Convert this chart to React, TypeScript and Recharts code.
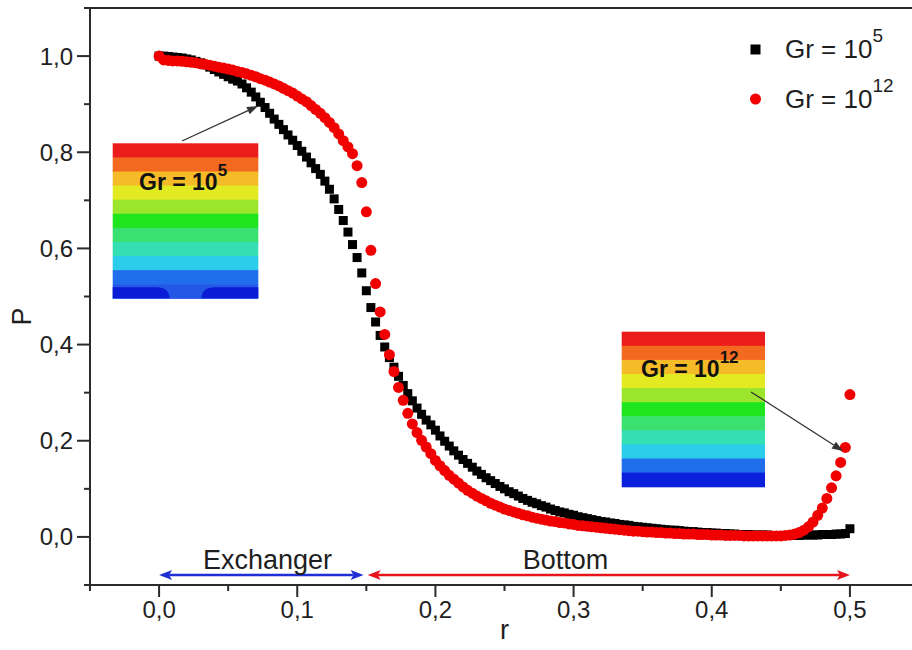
import React from "react";
import { ScatterChart, Scatter, XAxis, YAxis, ReferenceLine } from "recharts";

// radial position r (sampled every 1/300)
const R = [
  0, 0.0033, 0.0067, 0.01, 0.0133, 0.0167, 0.02, 0.0233, 0.0267, 0.03,
  0.0333, 0.0367, 0.04, 0.0433, 0.0467, 0.05, 0.0533, 0.0567, 0.06, 0.0633,
  0.0667, 0.07, 0.0733, 0.0767, 0.08, 0.0833, 0.0867, 0.09, 0.0933, 0.0967,
  0.1, 0.1033, 0.1067, 0.11, 0.1133, 0.1167, 0.12, 0.1233, 0.1267, 0.13,
  0.1333, 0.1367, 0.14, 0.1433, 0.1467, 0.15, 0.1533, 0.1567, 0.16, 0.1633,
  0.1667, 0.17, 0.1733, 0.1767, 0.18, 0.1833, 0.1867, 0.19, 0.1933, 0.1967,
  0.2, 0.2033, 0.2067, 0.21, 0.2133, 0.2167, 0.22, 0.2233, 0.2267, 0.23,
  0.2333, 0.2367, 0.24, 0.2433, 0.2467, 0.25, 0.2533, 0.2567, 0.26, 0.2633,
  0.2667, 0.27, 0.2733, 0.2767, 0.28, 0.2833, 0.2867, 0.29, 0.2933, 0.2967,
  0.3, 0.3033, 0.3067, 0.31, 0.3133, 0.3167, 0.32, 0.3233, 0.3267, 0.33,
  0.3333, 0.3367, 0.34, 0.3433, 0.3467, 0.35, 0.3533, 0.3567, 0.36, 0.3633,
  0.3667, 0.37, 0.3733, 0.3767, 0.38, 0.3833, 0.3867, 0.39, 0.3933, 0.3967,
  0.4, 0.4033, 0.4067, 0.41, 0.4133, 0.4167, 0.42, 0.4233, 0.4267, 0.43,
  0.4333, 0.4367, 0.44, 0.4433, 0.4467, 0.45, 0.4533, 0.4567, 0.46, 0.4633,
  0.4667, 0.47, 0.4733, 0.4767, 0.48, 0.4833, 0.4867, 0.49, 0.4933, 0.4967,
  0.5,
];

// P for Gr = 10^5 (black squares)
const P_GR5 = [
  1.0, 1.0, 0.999, 0.998, 0.997, 0.996, 0.994, 0.992, 0.989, 0.986,
  0.982, 0.977, 0.972, 0.967, 0.962, 0.957, 0.952, 0.948, 0.942, 0.934,
  0.925, 0.915, 0.904, 0.893, 0.881, 0.869, 0.858, 0.847, 0.836, 0.825,
  0.814, 0.802, 0.79, 0.778, 0.766, 0.754, 0.74, 0.723, 0.703, 0.681,
  0.658, 0.634, 0.608, 0.581, 0.549, 0.512, 0.477, 0.447, 0.419, 0.395,
  0.373, 0.353, 0.334, 0.315, 0.298, 0.283, 0.268, 0.255, 0.243, 0.233,
  0.222, 0.21, 0.199, 0.189, 0.179, 0.17, 0.161, 0.153, 0.145, 0.137,
  0.13, 0.123, 0.117, 0.111, 0.105, 0.1, 0.094, 0.09, 0.085, 0.08,
  0.076, 0.072, 0.069, 0.065, 0.062, 0.058, 0.055, 0.052, 0.05, 0.047,
  0.045, 0.042, 0.04, 0.038, 0.036, 0.034, 0.032, 0.031, 0.029, 0.028,
  0.026, 0.025, 0.024, 0.022, 0.021, 0.02, 0.019, 0.018, 0.017, 0.016,
  0.015, 0.014, 0.014, 0.013, 0.012, 0.011, 0.011, 0.01, 0.009, 0.009,
  0.008, 0.008, 0.007, 0.007, 0.006, 0.006, 0.005, 0.005, 0.005, 0.004,
  0.004, 0.004, 0.004, 0.003, 0.003, 0.003, 0.003, 0.003, 0.003, 0.003,
  0.004, 0.004, 0.004, 0.004, 0.005, 0.005, 0.005, 0.006, 0.006, 0.007,
  0.017,
];

// P for Gr = 10^12 (red dots)
const P_GR12 = [
  1.0, 0.992, 0.991, 0.99, 0.99, 0.989, 0.988, 0.987, 0.986, 0.984,
  0.983, 0.981, 0.979, 0.977, 0.975, 0.973, 0.971, 0.968, 0.966, 0.963,
  0.96, 0.957, 0.953, 0.95, 0.946, 0.942, 0.938, 0.933, 0.928, 0.923,
  0.917, 0.911, 0.905, 0.897, 0.889, 0.881, 0.872, 0.862, 0.851, 0.838,
  0.824, 0.811, 0.797, 0.772, 0.737, 0.676, 0.596, 0.527, 0.468, 0.421,
  0.379, 0.344, 0.311, 0.284, 0.257, 0.235, 0.217, 0.201, 0.187, 0.173,
  0.159, 0.148, 0.138, 0.128, 0.12, 0.112, 0.104, 0.097, 0.091, 0.085,
  0.08, 0.075, 0.07, 0.066, 0.062, 0.058, 0.055, 0.052, 0.049, 0.046,
  0.044, 0.041, 0.039, 0.037, 0.035, 0.033, 0.032, 0.03, 0.029, 0.027,
  0.026, 0.024, 0.023, 0.022, 0.021, 0.02, 0.019, 0.018, 0.017, 0.016,
  0.015, 0.014, 0.013, 0.012, 0.012, 0.011, 0.01, 0.01, 0.009, 0.009,
  0.008, 0.008, 0.007, 0.007, 0.006, 0.006, 0.006, 0.005, 0.005, 0.005,
  0.004, 0.004, 0.004, 0.003, 0.003, 0.003, 0.003, 0.002, 0.002, 0.002,
  0.002, 0.002, 0.002, 0.002, 0.002, 0.002, 0.003, 0.004, 0.006, 0.009,
  0.014, 0.021, 0.031, 0.045, 0.06, 0.08, 0.102, 0.127, 0.155, 0.186,
  0.296,
];

const X_TICKS = [-0.05, 0, 0.05, 0.1, 0.15, 0.2, 0.25, 0.3, 0.35, 0.4, 0.45, 0.5, 0.55];
const Y_TICKS = [-0.1, 0, 0.1, 0.2, 0.3, 0.4, 0.5, 0.6, 0.7, 0.8, 0.9, 1.0, 1.1];

// contour bands of the two small inset pictures, top to bottom
const BAND_COLORS = [
  "#ed1c1c", "#f3691f", "#f6bb28", "#e4ea22", "#9be52c", "#1ee51e",
  "#3ae070", "#34dfb4", "#2ccdea", "#1f6fec", "#0a20dc",
];

const FONT = "'Liberation Sans', Arial, Helvetica, sans-serif";
const AXIS = "#2b2b2b";
const TXT = "#1e1e1e";
const RED = "#f00000";

const gr5Rows = R.map((r, i) => ({ r, p: P_GR5[i] }));
const gr12Rows = R.map((r, i) => ({ r, p: P_GR12[i] }));

const fmt = (v: number) => v.toFixed(1).replace(".", ",");

const XTick = (props: any) => {
  const { x, y, payload } = props;
  const v = payload.value as number;
  const major = Math.abs(v * 10 - Math.round(v * 10)) < 1e-6 && v >= 0 && v <= 0.5;
  return (
    <g>
      <line x1={x} y1={y} x2={x} y2={y + (major ? 12 : 6)} stroke={AXIS} strokeWidth={2} />
      {major && (
        <text x={x} y={y + 33} textAnchor="middle" fontSize={24} fill={TXT} fontFamily={FONT}>
          {fmt(v)}
        </text>
      )}
    </g>
  );
};

const YTick = (props: any) => {
  const { x, y, payload } = props;
  const v = payload.value as number;
  const k = Math.round(v * 10);
  const major = k % 2 === 0 && k >= 0 && k <= 10;
  return (
    <g>
      <line x1={x} y1={y} x2={x - (major ? 13 : 6)} y2={y} stroke={AXIS} strokeWidth={2} />
      {major && (
        <text x={x - 17} y={y + 8.5} textAnchor="end" fontSize={24} fill={TXT} fontFamily={FONT}>
          {fmt(v)}
        </text>
      )}
    </g>
  );
};

const YLabel = (props: any) => {
  const vb = props.viewBox;
  const cx = vb.x + 22;
  const cy = vb.y + vb.height / 2 + 20;
  return (
    <text
      transform={`translate(${cx},${cy}) rotate(-90)`}
      textAnchor="middle"
      dominantBaseline="central"
      fontSize={27}
      fill={TXT}
      fontFamily={FONT}
    >
      P
    </text>
  );
};

const XLabel = (props: any) => {
  const vb = props.viewBox;
  return (
    <text x={vb.x + vb.width / 2} y={vb.y + 54} textAnchor="middle" fontSize={27} fill={TXT} fontFamily={FONT}>
      r
    </text>
  );
};

const Square = (props: any) => (
  <rect x={props.cx - 4.5} y={props.cy - 4.5} width={9} height={9} fill="#000" />
);
const Dot = (props: any) => <circle cx={props.cx} cy={props.cy} r={5.5} fill={RED} />;

// double headed arrow drawn on a reference segment, with a caption above it
const spanArrow = (color: string, caption: string, frac: number) => (p: any) => {
  const { x1, y1, x2 } = p;
  const y = y1;
  const L = 13;
  const W = 5;
  return (
    <g>
      <line x1={x1 + L - 3} y1={y} x2={x2 - L + 3} y2={y} stroke={color} strokeWidth={2.5} />
      <polygon points={`${x1},${y} ${x1 + L},${y - W} ${x1 + L - 3},${y} ${x1 + L},${y + W}`} fill={color} />
      <polygon points={`${x2},${y} ${x2 - L},${y - W} ${x2 - L + 3},${y} ${x2 - L},${y + W}`} fill={color} />
      <text x={x1 + (x2 - x1) * frac} y={y - 6} textAnchor="middle" fontSize={27} fill={TXT} fontFamily={FONT}>
        {caption}
      </text>
    </g>
  );
};

const Pointer = ({ x1, y1, x2, y2 }: { x1: number; y1: number; x2: number; y2: number }) => {
  const a = Math.atan2(y2 - y1, x2 - x1);
  const L = 11;
  const W = 4;
  const bx = x2 - L * Math.cos(a);
  const by = y2 - L * Math.sin(a);
  return (
    <g>
      <line x1={x1} y1={y1} x2={bx} y2={by} stroke="#333" strokeWidth={1.3} />
      <polygon
        points={`${x2},${y2} ${bx - W * Math.sin(a)},${by + W * Math.cos(a)} ${bx + W * Math.sin(a)},${by - W * Math.cos(a)}`}
        fill="#333"
      />
    </g>
  );
};

const Inset = ({
  x, y, w, h, sup, tx, ty, blobs,
}: { x: number; y: number; w: number; h: number; sup: string; tx: number; ty: number; blobs?: boolean }) => {
  const bh = h / BAND_COLORS.length;
  const yb = y + h - bh;
  return (
    <g>
      {BAND_COLORS.map((c, i) => {
        const fill = blobs && i === BAND_COLORS.length - 1 ? "#2357e6" : c;
        return <rect key={i} x={x} y={y + i * bh} width={w} height={bh + 0.6} fill={fill} />;
      })}
      {blobs && (
        <>
          <path d={`M${x},${yb + 3} H${x + 44} Q${x + 56},${yb + 3} ${x + 57},${y + h} H${x} Z`} fill="#0a1cd6" />
          <path d={`M${x + w},${yb + 3} H${x + w - 44} Q${x + w - 56},${yb + 3} ${x + w - 57},${y + h} H${x + w} Z`} fill="#0a1cd6" />
        </>
      )}
      <text x={tx} y={ty} fontSize={23} fontWeight="bold" fill="#111" fontFamily={FONT}>
        Gr = 10
        <tspan dy={-14} fontSize={17}>{sup}</tspan>
      </text>
    </g>
  );
};

export default function App() {
  return (
    <div
      style={{
        position: "fixed",
        left: 0,
        top: 0,
        width: 912,
        height: 650,
        overflow: "hidden",
        background: "#fff",
        fontFamily: FONT,
      }}
    >
      <ScatterChart width={940} height={650} margin={{ top: 8, right: 21, bottom: 0, left: 0 }}>
        <XAxis
          type="number"
          dataKey="r"
          domain={[-0.05, 0.55]}
          ticks={X_TICKS}
          interval={0}
          tickSize={0}
          tickMargin={0}
          tick={<XTick />}
          height={65}
          axisLine={{ stroke: AXIS, strokeWidth: 2 }}
          tickLine={false}
          allowDataOverflow
          label={<XLabel />}
        />
        <YAxis
          type="number"
          dataKey="p"
          domain={[-0.1, 1.1]}
          ticks={Y_TICKS}
          interval={0}
          tickSize={0}
          tickMargin={0}
          tick={<YTick />}
          width={90}
          axisLine={{ stroke: AXIS, strokeWidth: 2 }}
          tickLine={false}
          allowDataOverflow
          label={<YLabel />}
        />
        <ReferenceLine y={1.1} stroke={AXIS} strokeWidth={2} />
        <ReferenceLine
          segment={[{ x: 0, y: -0.079 }, { x: 0.148, y: -0.079 }]}
          shape={spanArrow("#1f2fd6", "Exchanger", 0.53)}
        />
        <ReferenceLine
          segment={[{ x: 0.151, y: -0.079 }, { x: 0.5, y: -0.079 }]}
          shape={spanArrow("#e8141c", "Bottom", 0.41)}
        />
        <Scatter name="Gr = 10^5" data={gr5Rows} shape={Square} isAnimationActive={false} />
        <Scatter name="Gr = 10^12" data={gr12Rows} shape={Dot} isAnimationActive={false} />
      </ScatterChart>

      <svg
        width={912}
        height={650}
        style={{ position: "absolute", left: 0, top: 0, pointerEvents: "none" }}
        fontFamily={FONT}
      >
        {/* legend */}
        <rect x={750.5} y={44.5} width={10} height={10} fill="#000" />
        <text x={785} y={58} fontSize={26} fill={TXT}>
          Gr = 10
          <tspan dy={-16} fontSize={19}>5</tspan>
        </text>
        <circle cx={755.5} cy={99} r={5.5} fill={RED} />
        <text x={785} y={108} fontSize={26} fill={TXT}>
          Gr = 10
          <tspan dy={-16} fontSize={19}>12</tspan>
        </text>

        {/* contour insets */}
        <Inset x={112.7} y={143.3} w={145.6} h={155} sup="5" tx={139} ty={190} blobs />
        <Inset x={621.7} y={331.7} w={143.3} h={155} sup="12" tx={641} ty={377} />
        <Pointer x1={182} y1={141} x2={258} y2={106} />
        <Pointer x1={751} y1={392} x2={843} y2={451} />
      </svg>
    </div>
  );
}
